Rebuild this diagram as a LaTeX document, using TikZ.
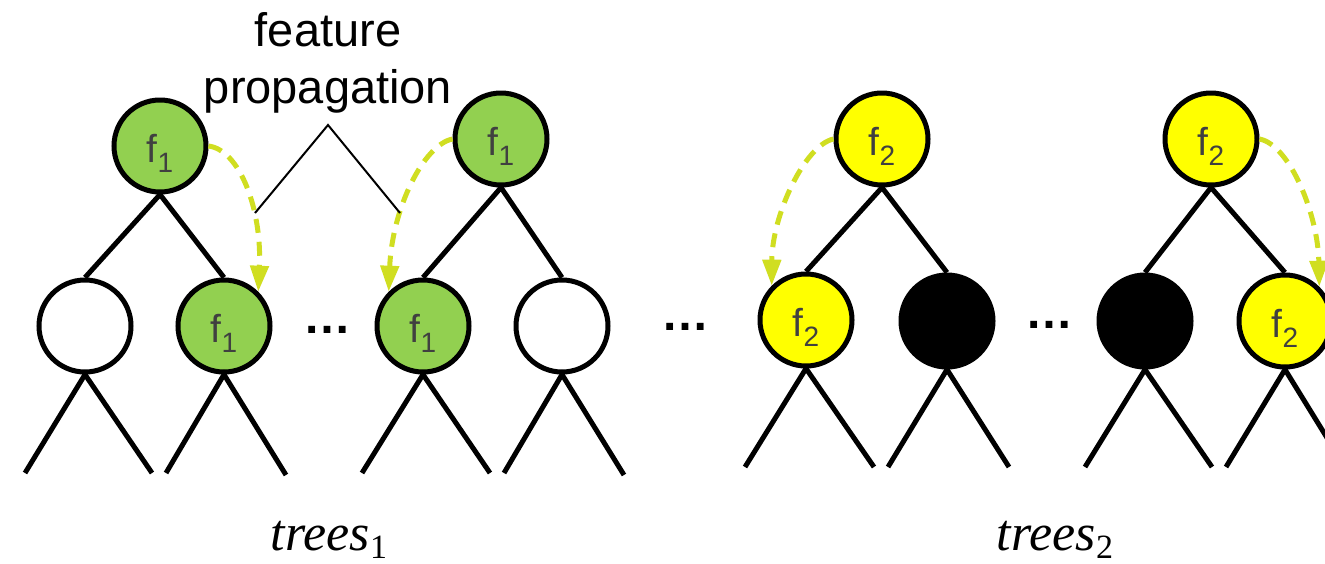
\documentclass[tikz,border=0pt]{standalone}
\usepackage{fontspec}
\setmainfont{Liberation Sans}
\newfontfamily\tlabfont{Liberation Serif}
\usetikzlibrary{arrows.meta}
\definecolor{fgreen}{RGB}{146,208,80}
\definecolor{fyellow}{RGB}{255,255,0}
\definecolor{arrowcol}{RGB}{208,222,33}
\definecolor{labgray}{RGB}{64,64,64}
\newcommand\fsubx[1]{f\raisebox{-10pt}{\fontsize{28}{28}\selectfont #1}}
\newcommand\treesx[1]{{\itshape trees}\raisebox{-8pt}{\fontsize{34}{34}\selectfont #1}}
\begin{document}
\begin{tikzpicture}[x=1pt,y=-1pt,
  tnode/.style={circle,draw=black,line width=5pt,minimum size=92pt,inner sep=0pt,
    text height=32pt,text depth=0pt,text=labgray,font=\fontsize{39}{39}\selectfont},
  gnode/.style={tnode,fill=fgreen},
  ynode/.style={tnode,fill=fyellow},
  wnode/.style={tnode,fill=white},
  bnode/.style={tnode,fill=black},
  edge/.style={line width=5pt},
  prop/.style={arrowcol,line width=5pt,dash pattern=on 14pt off 9pt,
    -{Triangle[length=26pt,width=18pt]}},
  dots/.style={font=\fontsize{48}{48}\selectfont\bfseries,inner sep=0pt,anchor=base},
  treelab/.style={font=\tlabfont\fontsize{52}{56}\selectfont,inner sep=0pt,anchor=base}
]
\useasboundingbox (0,0) rectangle (1325,563);
\clip (0,0) rectangle (1325,563);

% nodes
\node[gnode] (r1) at (160,146) {\fsubx{1}};
\node[wnode] (c1a) at (85,326) {};
\node[gnode] (c1b) at (224,326) {\fsubx{1}};
\node[gnode] (r2) at (501,139) {\fsubx{1}};
\node[gnode] (c2a) at (423,326) {\fsubx{1}};
\node[wnode] (c2b) at (562,326) {};
\node[ynode] (r3) at (882,139) {\fsubx{2}};
\node[ynode] (c3a) at (806,320) {\fsubx{2}};
\node[bnode] (c3b) at (947,321) {};
\node[ynode] (r4) at (1211,139) {\fsubx{2}};
\node[bnode] (c4a) at (1145,321) {};
\node[ynode] (c4b) at (1285,321) {\fsubx{2}};

% leaf ends
\coordinate (c1a-l) at (25,473);   \coordinate (c1a-r) at (152,473);
\coordinate (c1b-l) at (166,473);  \coordinate (c1b-r) at (286,475);
\coordinate (c2a-l) at (362,473);  \coordinate (c2a-r) at (490,473);
\coordinate (c2b-l) at (504,473);  \coordinate (c2b-r) at (624,475);
\coordinate (c3a-l) at (745,467);  \coordinate (c3a-r) at (874,467);
\coordinate (c3b-l) at (888,467);  \coordinate (c3b-r) at (1009,467);
\coordinate (c4a-l) at (1085,467); \coordinate (c4a-r) at (1212,467);
\coordinate (c4b-l) at (1226,467); \coordinate (c4b-r) at (1345,467);

% tree edges
\draw[edge] (c1a.north) -- (r1.south) -- (c1b.north);
\draw[edge] (c2a.north) -- (r2.south) -- (c2b.north);
\draw[edge] (c3a.north) -- (r3.south) -- (c3b.north);
\draw[edge] (c4a.north) -- (r4.south) -- (c4b.north);
\foreach \n in {c1a,c1b,c2a,c2b,c3a,c3b,c4a,c4b}{
  \draw[edge] (\n-l) -- (\n.south) -- (\n-r);
}

% propagation arrows
\draw[prop] (r1.east) .. controls (240,150) and (262,210) .. (c1b.45);
\draw[prop] (r2.west) .. controls (423,145) and (392,210) .. (c2a.135);
\draw[prop] (r3.west) .. controls (805,145) and (772,215) .. (c3a.135);
\draw[prop] (r4.east) .. controls (1290,145) and (1318,215) .. (c4b.45);

% label with bracket
\node[font=\fontsize{47}{57}\selectfont,align=center,inner sep=0pt,anchor=south] (fp) at (328,113) {feature\\propagation};
\coordinate (bl) at (255,213);
\coordinate (ba) at (328,125);
\coordinate (br) at (400,213);
\draw[line width=2pt] (bl) -- (ba) -- (br);

% dots
\node[dots] (d1) at (327.5,333.5) {…};
\node[dots] (d2) at (685,330) {…};
\node[dots] (d3) at (1049,328) {…};

% tree labels
\node[treelab] (t1) at (329,550) {\treesx{1}};
\node[treelab] (t2) at (1055,550) {\treesx{2}};
\end{tikzpicture}
\end{document}
